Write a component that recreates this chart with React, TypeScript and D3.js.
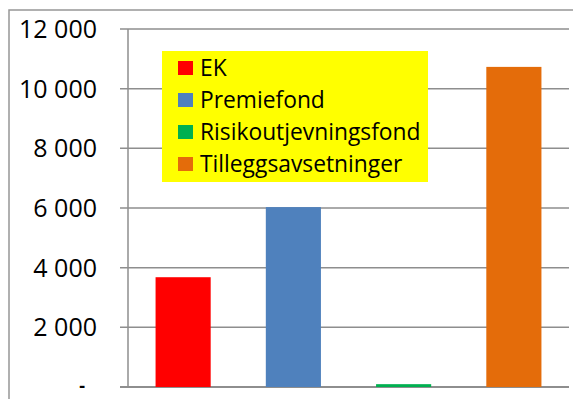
import React from "react";
import * as d3 from "d3";

const categories = ["EK", "Premiefond", "Risikoutjevningsfond", "Tilleggsavsetninger"];
const values = [3680, 6030, 95, 10730];
const colors = ["#FF0000", "#4F81BD", "#00B050", "#E46C0A"];
const yTicks = [0, 2000, 4000, 6000, 8000, 10000, 12000];

const W = 573;
const H = 399;
const plot = { left: 128, right: 569, top: 29, bottom: 387 };

const fmt = (v: number) =>
  v === 0 ? "-" : d3.format(",")(v).replace(/,/g, "\u00a0");

export default function App() {
  const x = d3
    .scaleBand<string>()
    .domain(categories)
    .range([plot.left, plot.right])
    .paddingInner(0.5)
    .paddingOuter(0.25);
  const y = d3.scaleLinear().domain([0, 12000]).range([plot.bottom, plot.top]);
  const font = "'Open Sans', Lato, sans-serif";

  return (
    <svg
      width={W}
      height={H}
      style={{ position: "absolute", left: 0, top: 0, background: "#fff" }}
    >
      {/* chart frame */}
      <rect x={9} y={10} width={W} height={H} fill="none" stroke="#979797" strokeWidth={1.5} />

      {/* gridlines and y ticks */}
      {yTicks.map((t) => (
        <g key={t}>
          <line
            x1={plot.left - 8}
            x2={plot.right}
            y1={y(t)}
            y2={y(t)}
            stroke="#8e8e8e"
            strokeWidth={t === 0 ? 2 : 1.5}
          />
          <text
            x={t === 0 ? 85 : 97}
            y={y(t)}
            dy={t === 0 ? "0.28em" : "0.36em"}
            textAnchor="end"
            fontFamily={font}
            fontSize={t === 0 ? 18 : 25}
            fontWeight={t === 0 ? 700 : 400}
            fill="#000"
          >
            {fmt(t)}
          </text>
        </g>
      ))}
      {/* y axis line */}
      <line x1={plot.left} x2={plot.left} y1={plot.top} y2={plot.bottom} stroke="#8e8e8e" strokeWidth={1.5} />

      {/* bars */}
      {categories.map((c, i) => (
        <rect
          key={c}
          x={x(c)!}
          y={y(values[i])}
          width={x.bandwidth()}
          height={plot.bottom - y(values[i])}
          fill={colors[i]}
        />
      ))}

      {/* legend */}
      <g>
        <rect x={162} y={51} width={266} height={131} fill="#FFFF00" />
        {categories.map((c, i) => {
          const cy = 68 + i * 32;
          return (
            <g key={c}>
              <rect x={178} y={cy - 7} width={15} height={14} fill={colors[i]} />
              <text
                x={200}
                y={cy}
                dy="0.36em"
                fontFamily={font}
                fontSize={22.8}
                fill="#000"
              >
                {c}
              </text>
            </g>
          );
        })}
      </g>
    </svg>
  );
}
